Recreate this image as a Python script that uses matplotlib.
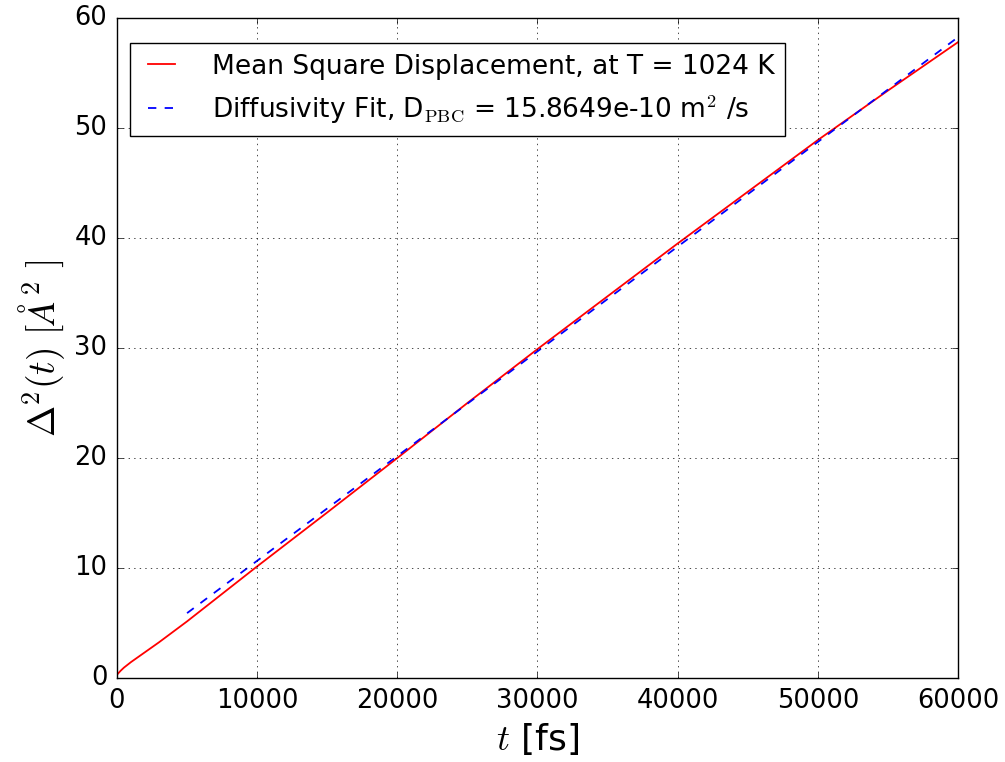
import numpy as np
import matplotlib
matplotlib.use('Agg')
import matplotlib.pyplot as plt

# mean square displacement (t in fs, MSD in A^2)
t_msd = [0, 250, 500, 1000, 2000, 3000, 4000, 5000, 7500, 10000, 15000, 20000,
         25000, 30000, 35000, 40000, 45000, 50000, 55000, 60000]
msd = [0.3, 0.65, 0.95, 1.45, 2.35, 3.25, 4.2, 5.15, 7.65, 10.15, 15.05, 20.0,
       25.0, 29.9, 34.7, 39.5, 44.2, 48.9, 53.4, 57.8]

# linear fit line (starts after equilibration)
t_fit = [5000, 60000]
msd_fit = [5.9, 58.25]

D_pbc = "15.8649e-10"
T = 1024

plt.style.use('classic')
plt.rcParams['mathtext.fontset'] = 'cm'

fig = plt.figure(figsize=(10.05, 7.62), dpi=100, facecolor='white')
ax = fig.add_axes([0.1164, 0.1102, 0.8368, 0.8662])

ax.plot(t_msd, msd, color='r', lw=1.3, label='Mean Square Displacement, at T = %d K' % T)
ax.plot(t_fit, msd_fit, color='b', lw=1.3, linestyle='--',
        label=r'Diffusivity Fit, D$_{\rm PBC}$ = ' + D_pbc + r' m$^2$ /s')

ax.set_xlim(0, 60000)
ax.set_ylim(0, 60)
ax.grid(True)
ax.tick_params(labelsize=18.5, pad=7)
ax.set_xlabel(r'$t$ [fs]', fontsize=26)
ax.set_ylabel(r'$\Delta^2(t)$ $[\AA^2\ ]$', fontsize=27)
ax.legend(loc='upper left', bbox_to_anchor=(0.0155, 0.962), borderaxespad=0,
          fontsize=19, handlelength=1.6, handletextpad=1.1, frameon=True)

fig.savefig('out.png', dpi=100, facecolor='white')
